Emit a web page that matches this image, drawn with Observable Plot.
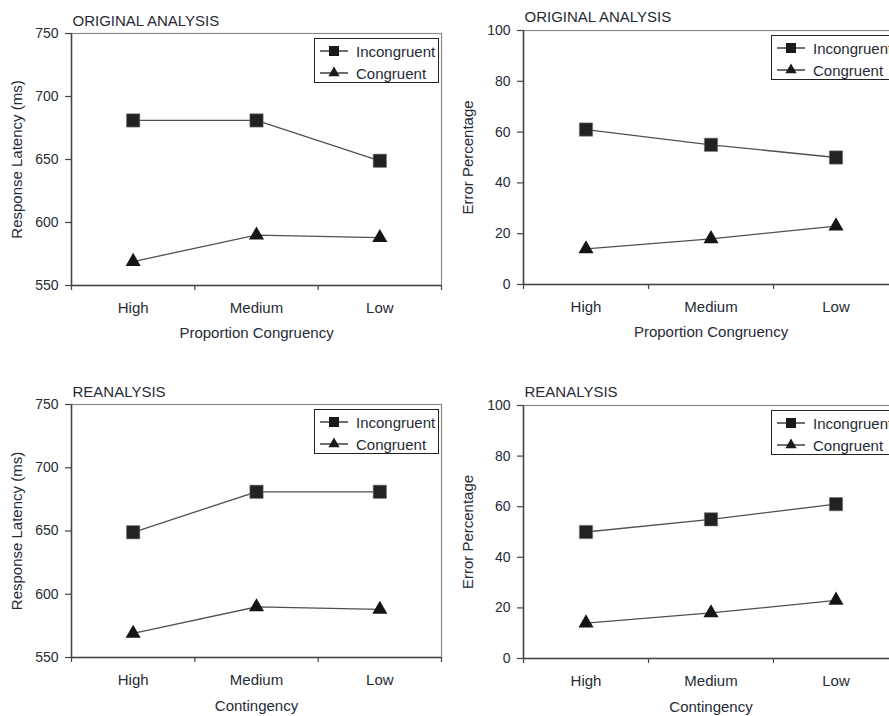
<!DOCTYPE html>
<html>
<head>
<meta charset="utf-8">
<script src="https://cdn.jsdelivr.net/npm/d3@7"></script>
<script src="https://cdn.jsdelivr.net/npm/@observablehq/plot@0.6"></script>
<style>
  html, body { margin: 0; padding: 0; background: #fff; overflow: hidden; }
  #wrap { position: relative; width: 889px; height: 716px; overflow: hidden; background: #fff;
          font-family: "Liberation Sans", Arial, sans-serif; color: #262b36; }
  .panel { position: absolute; }
  .panel svg { max-width: none !important; }
  .legend { position: absolute; box-sizing: border-box; width: 125px; height: 45px;
            border: 1.5px solid #222; background: #fff; }
  .legend .row { position: absolute; left: 0; height: 20px; display: flex; align-items: center; }
  .legend .row span { font-size: 15px; margin-left: 3px; white-space: nowrap; }
</style>
</head>
<body>
<div id="wrap"></div>
<script>
// ---------- data ----------
const categories = ["High", "Medium", "Low"];
const seriesNames = ["Incongruent", "Congruent"];

const latencyOriginalIncongruent = [681, 681, 649];
const latencyOriginalCongruent   = [569, 590, 588];
const errorOriginalIncongruent   = [61, 55, 50];
const errorOriginalCongruent     = [14, 18, 23];

const latencyReanalysisIncongruent = [649, 681, 681];
const latencyReanalysisCongruent   = [569, 590, 588];
const errorReanalysisIncongruent   = [50, 55, 61];
const errorReanalysisCongruent     = [14, 18, 23];

const latencyTicks = [550, 600, 650, 700, 750];
const errorTicks = [0, 20, 40, 60, 80, 100];

const titles = ["ORIGINAL ANALYSIS", "REANALYSIS"];
const xLabels = ["Proportion Congruency", "Contingency"];
const yLabels = ["Response Latency (ms)", "Error Percentage"];

// ---------- drawing ----------
const FONT = '"Liberation Sans", Arial, sans-serif';
const TEXT = "#262b36";
const wrap = document.getElementById("wrap");

function rowsFor(values, name) {
  return categories.map((c, i) => ({cat: c, pos: i + 0.5, value: values[i], series: name}));
}

function panel(cfg) {
  const inc = rowsFor(cfg.inc, seriesNames[0]);
  const con = rowsFor(cfg.con, seriesNames[1]);
  const yd = [cfg.yTicks[0], cfg.yTicks[cfg.yTicks.length - 1]];
  const chart = Plot.plot({
    width: cfg.width, height: cfg.height,
    marginLeft: cfg.ml, marginRight: cfg.mr, marginTop: cfg.mt, marginBottom: cfg.mb,
    style: {fontFamily: FONT, fontSize: "14px", color: TEXT, background: "transparent",
            overflow: "visible", maxWidth: "none"},
    x: {domain: [0, categories.length], axis: null},
    y: {domain: yd, axis: null},
    marks: [
      Plot.frame({stroke: "#8a8a8a", strokeWidth: 1.2}),
      Plot.axisY({ticks: cfg.yTicks, tickSize: 6, tickPadding: 7, stroke: "#444", strokeWidth: 1.2,
                  tickFormat: d => String(d), label: null, fontSize: 14, fill: TEXT}),
      Plot.axisX({ticks: d3.range(categories.length + 1), tickSize: 5, stroke: "#444", strokeWidth: 1.2,
                  tickFormat: () => "", label: null}),
      Plot.ruleX([0], {stroke: "#444", strokeWidth: 1.5}),
      Plot.ruleY([yd[0]], {stroke: "#444", strokeWidth: 1.5}),
      Plot.text(categories, {x: (d, i) => i + 0.5, text: d => d, frameAnchor: "bottom", dy: 23,
                             lineAnchor: "middle", fontSize: 15, fill: TEXT}),
      Plot.line(inc, {x: "pos", y: "value", stroke: "#505050", strokeWidth: 1.3}),
      Plot.line(con, {x: "pos", y: "value", stroke: "#505050", strokeWidth: 1.3}),
      Plot.dot(inc, {x: "pos", y: "value", symbol: "square", r: 7.5, fill: "#222", stroke: "#777", strokeWidth: 0.6}),
      Plot.dot(con, {x: "pos", y: "value", symbol: "triangle", r: 5.6, fill: "#151515", stroke: "none"}),
      Plot.text([cfg.title], {frameAnchor: "top-left", textAnchor: "start", lineAnchor: "middle",
                              dx: 1, dy: cfg.titleDy, fontSize: 15, fill: TEXT}),
      Plot.text([cfg.xLabel], {frameAnchor: "bottom", lineAnchor: "middle", dy: cfg.xLabelDy,
                               fontSize: 15, fill: TEXT}),
      Plot.text([cfg.yLabel], {frameAnchor: "left", textAnchor: "middle", lineAnchor: "middle",
                               dx: cfg.yLabelDx, rotate: -90, fontSize: 15, fill: TEXT})
    ]
  });
  const div = document.createElement("div");
  div.className = "panel";
  div.style.left = cfg.left + "px";
  div.style.top = cfg.top + "px";
  div.style.width = cfg.width + "px";
  div.appendChild(chart);
  wrap.appendChild(div);

  // legend (inside the plot area, top-right)
  const lg = document.createElement("div");
  lg.className = "legend";
  const plotRight = cfg.left + cfg.width - cfg.mr;
  lg.style.left = (plotRight - 2 - 125) + "px";
  lg.style.top = (cfg.top + cfg.mt + 5) + "px";
  const sq = d3.symbol(d3.symbolSquare, 100)();
  const tri = d3.symbol(d3.symbolTriangle, 55)();
  [[seriesNames[0], sq, 2], [seriesNames[1], tri, 24]].forEach(([name, path, top]) => {
    const row = document.createElement("div");
    row.className = "row";
    row.style.top = top + "px";
    row.innerHTML = `<svg width="38" height="20" style="display:block">
        <line x1="5" x2="33" y1="10" y2="10" stroke="#222" stroke-width="1.3"/>
        <path d="${path}" transform="translate(19,10)" fill="#1a1a1a"/></svg><span>${name}</span>`;
    lg.appendChild(row);
  });
  wrap.appendChild(lg);
}

panel({left: 0, top: 0, width: 450, height: 360, ml: 71, mr: 9, mt: 33, mb: 75,
       inc: latencyOriginalIncongruent, con: latencyOriginalCongruent, yTicks: latencyTicks,
       title: titles[0], xLabel: xLabels[0], yLabel: yLabels[0], titleDy: -12, xLabelDy: 48, yLabelDx: -54});
panel({left: 450, top: 0, width: 460, height: 360, ml: 73, mr: 12, mt: 30, mb: 76,
       inc: errorOriginalIncongruent, con: errorOriginalCongruent, yTicks: errorTicks,
       title: titles[0], xLabel: xLabels[0], yLabel: yLabels[1], titleDy: -13, xLabelDy: 48, yLabelDx: -55});
panel({left: 0, top: 370, width: 450, height: 346, ml: 71, mr: 9, mt: 34, mb: 59,
       inc: latencyReanalysisIncongruent, con: latencyReanalysisCongruent, yTicks: latencyTicks,
       title: titles[1], xLabel: xLabels[1], yLabel: yLabels[0], titleDy: -12, xLabelDy: 49, yLabelDx: -54});
panel({left: 450, top: 370, width: 460, height: 346, ml: 73, mr: 12, mt: 35, mb: 58,
       inc: errorReanalysisIncongruent, con: errorReanalysisCongruent, yTicks: errorTicks,
       title: titles[1], xLabel: xLabels[1], yLabel: yLabels[1], titleDy: -13, xLabelDy: 49, yLabelDx: -55});
</script>
</body>
</html>
